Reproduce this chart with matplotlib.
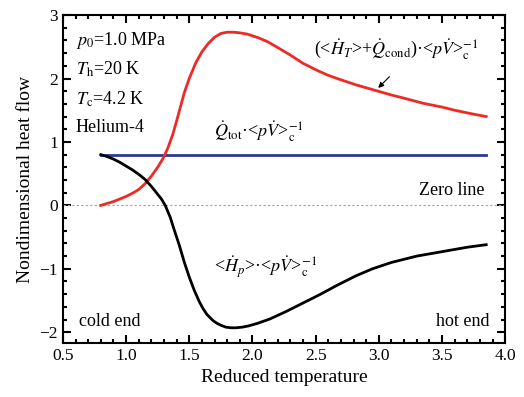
import matplotlib
matplotlib.use('Agg')
import matplotlib.pyplot as plt
from matplotlib.ticker import MultipleLocator

plt.rcParams['font.family'] = ['Liberation Serif', 'DejaVu Serif']
plt.rcParams['mathtext.fontset'] = 'stix'

x_red = [0.80, 0.85, 0.90, 0.95, 1.00, 1.05, 1.10, 1.15, 1.20, 1.25, 1.29, 1.33, 1.37,
         1.40, 1.43, 1.46, 1.50, 1.55, 1.60, 1.65, 1.70, 1.75, 1.80, 1.85, 1.90, 1.96,
         2.05, 2.12, 2.19, 2.30, 2.40, 2.51, 2.60, 2.70, 2.82, 2.96, 3.10, 3.20, 3.35,
         3.50, 3.60, 3.72, 3.85]
y_red = [0.00, 0.03, 0.06, 0.10, 0.14, 0.19, 0.25, 0.34, 0.46, 0.60, 0.73, 0.90, 1.12,
         1.33, 1.55, 1.77, 2.00, 2.24, 2.42, 2.55, 2.65, 2.71, 2.73, 2.73, 2.72, 2.70,
         2.64, 2.58, 2.50, 2.37, 2.24, 2.13, 2.05, 1.98, 1.90, 1.82, 1.74, 1.69, 1.61,
         1.55, 1.50, 1.45, 1.40]

x_black = [0.80, 0.85, 0.90, 0.95, 1.00, 1.05, 1.10, 1.15, 1.20, 1.24, 1.28, 1.31, 1.35,
           1.38, 1.42, 1.46, 1.50, 1.54, 1.58, 1.61, 1.64, 1.69, 1.72, 1.75, 1.79, 1.83,
           1.87, 1.92, 1.97, 2.04, 2.14, 2.27, 2.41, 2.54, 2.67, 2.82, 2.95, 3.10, 3.30,
           3.50, 3.70, 3.85]
y_black = [0.80, 0.77, 0.73, 0.68, 0.62, 0.56, 0.49, 0.41, 0.30, 0.20, 0.10, 0.00, -0.19,
           -0.38, -0.62, -0.89, -1.13, -1.34, -1.52, -1.63, -1.72, -1.82, -1.86, -1.89, -1.92,
           -1.93, -1.93, -1.92, -1.90, -1.86, -1.79, -1.67, -1.53, -1.40, -1.26, -1.11, -1.00,
           -0.90, -0.80, -0.73, -0.66, -0.62]

x_blue = [0.80, 3.85]
y_blue = [0.80, 0.80]

fig = plt.figure(figsize=(5.24, 3.97), dpi=100)
ax = fig.add_axes([0.120, 0.136, 0.844, 0.826])

ax.axhline(0, color='#9a9ad0', lw=0.8, ls=(0, (2, 2)))
ax.plot(x_blue, y_blue, color='#2b3990', lw=2)
ax.plot(x_red, y_red, color='#ee2a24', lw=2)
ax.plot(x_black, y_black, color='black', lw=2)

ax.set_xlim(0.5, 4.0)
ax.set_ylim(-2.17, 3.0)
ax.xaxis.set_major_locator(MultipleLocator(0.5))
ax.xaxis.set_minor_locator(MultipleLocator(0.1))
ax.yaxis.set_major_locator(MultipleLocator(1))
ax.yaxis.set_minor_locator(MultipleLocator(0.2))
ax.xaxis.set_major_formatter(plt.FormatStrFormatter('%.1f'))
ax.tick_params(which='both', direction='in', top=True, right=True, labelsize=12.5, width=1.5)
ax.tick_params(which='major', length=6)
ax.tick_params(which='minor', length=3)
for s in ax.spines.values():
    s.set_linewidth(1.5)

ax.set_xlabel('Reduced temperature', fontsize=14)
ax.set_ylabel('Nondimensional heat flow', fontsize=14)

fs = 13
ax.text(0.6, 2.6, r'$p_0$=1.0 MPa', fontsize=fs, va='center')
ax.text(0.6, 2.14, r'$T_{\rm h}$=20 K', fontsize=fs, va='center')
ax.text(0.6, 1.68, r'$T_{\rm c}$=4.2 K', fontsize=fs, va='center')
ax.text(0.6, 1.23, 'Helium-4', fontsize=fs, va='center')

ax.text(3.14, 2.45, r'(<$\dot{H}_T$>+$\dot{Q}_{\rm cond}$)·<$p\dot{V}$>$_{\rm c}^{-1}$',
        fontsize=fs, ha='center', va='center')
ax.annotate('', xy=(2.98, 1.82), xytext=(3.1, 2.06),
            arrowprops=dict(arrowstyle='-|>', color='black', lw=0.8, mutation_scale=8))
ax.text(2.05, 1.17, r'$\dot{Q}_{\rm tot}$·<$p\dot{V}$>$_{\rm c}^{-1}$',
        fontsize=fs, ha='center', va='center')
ax.text(3.84, 0.24, 'Zero line', fontsize=fs, ha='right', va='center')
ax.text(2.1, -0.98, r'<$\dot{H}_p$>·<$p\dot{V}$>$_{\rm c}^{-1}$',
        fontsize=fs, ha='center', va='center')
ax.text(0.63, -1.83, 'cold end', fontsize=fs, va='center')
ax.text(3.88, -1.83, 'hot end', fontsize=fs, ha='right', va='center')

fig.savefig('out.png', dpi=100)
